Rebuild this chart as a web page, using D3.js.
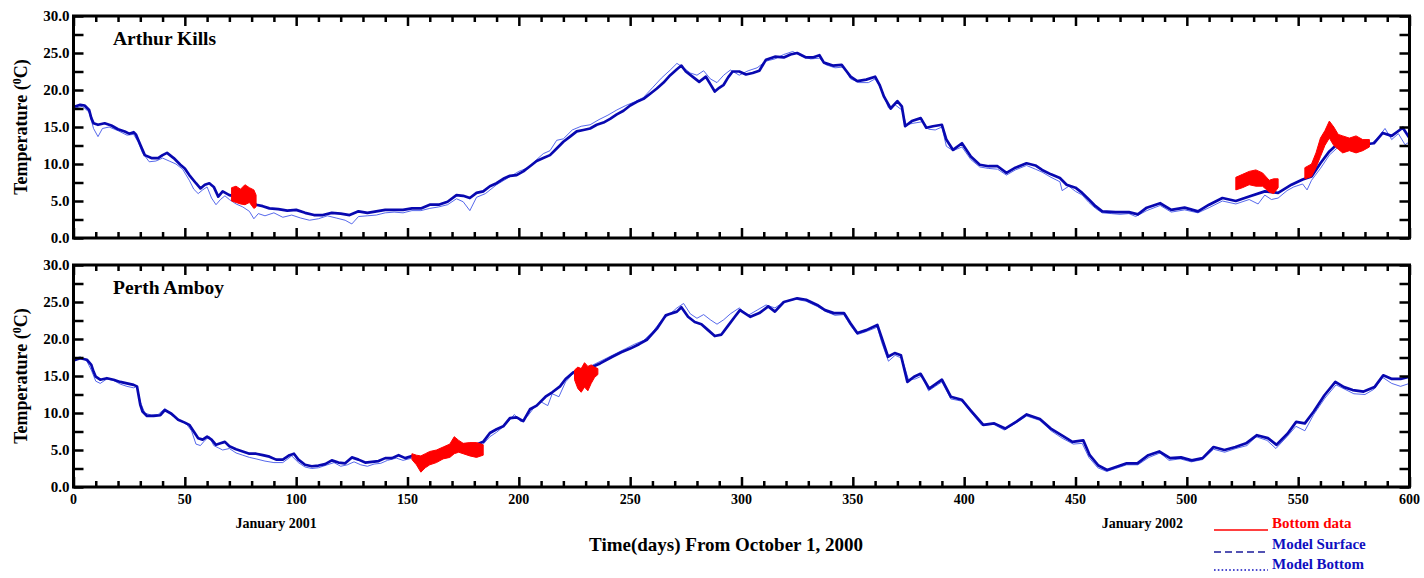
<!DOCTYPE html>
<html>
<head>
<meta charset="utf-8">
<script src="https://cdn.jsdelivr.net/npm/d3@7"></script>
<style>
  html, body { margin: 0; padding: 0; background: #fff; }
  svg { display: block; }
  text { font-family: "Liberation Serif", "Times New Roman", serif; font-weight: bold; }
</style>
</head>
<body>
<svg id="chart" width="1424" height="578"></svg>
<script>
// ---- Data: [day since Oct 1 2000, temperature degC] ----
const akSurface = [[0,17.7],[3,18.0],[5,17.9],[7,17.3],[8,16.2],[9,15.5],[11,15.3],[14,15.5],[17,15.2],[20,14.7],[23,14.4],[25,14.1],[27,14.3],[28,14.0],[30,12.6],[32,11.2],[35,10.8],[38,10.8],[40,11.2],[42,11.5],[45,10.8],[48,9.9],[50,9.4],[52,8.5],[55,7.4],[57,6.7],[59,7.2],[61,7.4],[63,6.9],[65,5.6],[67,6.3],[70,5.8],[73,5.6],[76,5.5],[79,5.3],[82,4.5],[85,4.3],[88,4.0],[92,3.9],[96,3.7],[100,3.8],[104,3.4],[108,3.1],[112,3.1],[116,3.4],[120,3.3],[124,3.1],[128,3.6],[132,3.4],[136,3.6],[140,3.8],[144,3.8],[148,3.8],[152,4.0],[156,4.0],[160,4.5],[164,4.5],[168,4.9],[172,5.8],[175,5.7],[178,5.4],[181,6.1],[184,6.3],[187,7.0],[190,7.4],[193,8.0],[196,8.4],[199,8.5],[202,9.0],[205,9.7],[208,10.4],[211,10.8],[214,11.2],[217,12.1],[220,13.0],[223,13.7],[226,14.4],[229,14.6],[232,14.8],[235,15.3],[238,15.6],[241,16.1],[244,16.7],[247,17.2],[250,17.9],[253,18.4],[256,18.8],[259,19.5],[262,20.2],[265,21.0],[268,22.0],[271,22.8],[273,23.3],[275,22.5],[278,21.8],[281,21.1],[284,21.8],[286,20.8],[288,19.8],[290,20.3],[292,20.7],[294,21.7],[296,22.5],[299,22.5],[302,22.1],[305,22.3],[308,22.6],[311,24.1],[315,24.5],[319,24.4],[322,24.8],[325,25.0],[329,24.4],[332,24.4],[335,24.7],[337,23.7],[341,23.3],[345,23.4],[347,22.6],[349,21.8],[352,21.2],[356,21.4],[360,21.8],[362,20.7],[364,19.1],[367,17.5],[370,18.5],[372,17.8],[373.5,15.1],[376.5,15.8],[380.5,16.2],[383,14.9],[386,15.1],[390,15.3],[392,13.3],[395,11.9],[399,12.8],[403,11.0],[407,9.9],[411,9.7],[415,9.7],[419,8.8],[423,9.5],[428,10.1],[432,9.8],[435,9.2],[439,8.6],[443,8.1],[446,7.2],[450,6.8],[453,6.1],[456,5.2],[459,4.3],[462,3.6],[468,3.5],[474,3.5],[478,3.2],[482,4.1],[488,4.7],[493,3.8],[499,4.1],[505,3.6],[510,4.5],[516,5.4],[522,5.0],[528,5.6],[535,6.3],[541,6.1],[547,7.2],[552,7.9],[556,8.3],[560,10.1],[564,11.7],[568,12.8],[572,12.6],[578,12.6],[584,12.8],[588,14.2],[592,13.8],[597,14.9],[600,13.5]];

const akBottom = [[0,17.5],[4,17.8],[7,17.0],[9,14.8],[11,13.7],[13,14.8],[16,15.0],[20,14.5],[24,13.9],[27,14.0],[29,13.0],[31,11.5],[34,10.3],[37,10.4],[40,10.8],[43,10.4],[46,10.0],[49,9.3],[52,7.8],[54,6.6],[56,6.0],[58,6.5],[60,6.9],[62,5.4],[64,4.5],[66,5.2],[68,5.7],[70,5.2],[73,4.6],[76,4.2],[79,3.6],[81,2.6],[83,3.3],[86,3.0],[90,3.4],[94,2.8],[98,3.1],[102,2.7],[106,2.4],[110,2.6],[114,3.0],[118,2.7],[122,2.4],[125,1.9],[128,2.9],[132,3.0],[136,3.1],[140,3.4],[144,3.5],[148,3.4],[152,3.7],[156,3.7],[160,4.0],[164,4.2],[168,4.5],[172,5.3],[175,4.9],[178,3.7],[181,5.5],[185,6.0],[190,7.2],[195,8.1],[200,9.0],[205,9.6],[208,10.6],[211,11.4],[214,11.8],[217,13.2],[220,13.4],[224,14.6],[228,15.1],[232,15.3],[236,16.0],[240,16.6],[244,17.3],[248,17.9],[252,18.4],[256,19.0],[260,20.3],[264,21.6],[268,22.7],[271,23.6],[274,23.0],[277,22.3],[280,22.0],[283,22.6],[286,21.5],[289,21.0],[292,22.0],[295,22.7],[299,22.0],[303,22.6],[307,23.0],[311,23.9],[315,24.2],[319,24.8],[323,25.2],[327,24.6],[331,24.2],[335,24.3],[338,23.4],[342,23.0],[346,23.1],[349,21.5],[353,21.0],[357,21.0],[360,21.5],[363,20.0],[366,17.6],[369,18.0],[372,17.3],[374,15.3],[377,15.5],[381,15.7],[384,14.7],[387,14.6],[390,15.0],[392,12.4],[395,11.8],[399,12.3],[403,10.6],[407,9.6],[411,9.4],[415,9.3],[419,8.5],[423,9.2],[428,9.8],[432,9.3],[435,8.9],[439,8.2],[443,7.6],[444,6.4],[447,7.0],[450,6.3],[453,5.8],[456,4.8],[459,4.0],[462,3.4],[466,3.3],[470,3.2],[474,3.3],[477,2.9],[482,3.7],[488,4.4],[493,3.5],[499,3.8],[505,3.4],[510,4.1],[516,5.0],[522,4.6],[528,5.2],[532,4.6],[535,5.8],[538,5.2],[541,5.4],[545,6.4],[548,6.9],[552,7.3],[554,6.5],[556,7.8],[560,9.4],[564,11.2],[568,12.3],[572,12.3],[577,12.0],[582,12.5],[586,13.6],[589,14.8],[592,13.3],[595,14.1],[598,12.6],[600,13.0]];

// observed bottom temperature: [day, low, high] of the tidal swing
const akObserved = [
  [[71,5.0,6.8],[73,4.8,7.0],[75,4.6,6.6],[77,4.5,7.2],[79,4.8,6.8],[81,4.0,6.5],[82,4.2,5.8]],
  [[522,6.5,8.2],[525,6.8,8.6],[528,7.2,9.0],[531,7.0,9.2],[534,7.0,8.8],[537,6.2,7.8],[539,6.0,8.0],[541,6.8,8.0]],
  [[553,8.0,9.5],[556,8.3,10.0],[558,9.5,11.5],[560,11.0,13.5],[562,12.5,14.5],[564,13.5,15.8],[566,12.5,15.0],[568,12.0,14.0],[570,11.5,13.8],[573,11.8,13.5],[576,11.5,13.8],[579,11.8,13.3],[582,12.3,13.3]]
];

const paSurface = [[0,17.1],[3,17.4],[6,17.2],[8,16.5],[9,15.6],[10,14.9],[12,14.5],[15,14.7],[18,14.5],[21,14.2],[24,14.0],[27,13.8],[28.5,13.6],[30,11.1],[31,10.2],[33,9.6],[36,9.6],[39,9.7],[41,10.4],[44,9.9],[47,9.1],[50,8.7],[52,8.4],[54,7.5],[56,6.6],[58,6.4],[60,6.8],[62,6.4],[64,5.7],[66,5.9],[68,6.1],[70,5.5],[73,5.1],[76,4.8],[79,4.5],[82,4.5],[85,4.3],[88,4.1],[91,3.7],[94,3.7],[97,4.3],[99,4.5],[101,3.7],[104,3.0],[107,2.8],[110,2.9],[113,3.1],[116,3.6],[119,3.3],[122,3.2],[125,4.0],[128,3.7],[131,3.3],[134,3.4],[137,3.5],[140,3.9],[143,3.9],[146,4.3],[149,3.9],[152,4.2],[155,3.9],[160,4.3],[165,4.8],[170,5.5],[175,5.7],[180,5.6],[184,6.1],[187,7.3],[190,7.8],[193,8.2],[196,9.3],[199,9.4],[202,8.9],[205,10.5],[208,11.0],[212,12.2],[215,12.8],[218.5,13.6],[221,14.6],[224.5,15.5],[228,15.8],[232,16.1],[236.5,16.7],[242,17.6],[246,18.2],[250,18.7],[254,19.3],[257.5,19.9],[262,21.4],[266,23.2],[271,23.7],[273,24.3],[276,23.0],[279,22.3],[282,22.0],[285,21.2],[288,20.4],[291,20.6],[294,21.8],[297,23.0],[299.3,23.9],[304,23.0],[308,23.5],[312,24.4],[315,23.7],[319,25.0],[325,25.5],[329,25.3],[334,24.6],[337.5,23.9],[341.5,23.5],[346,23.5],[349,22.1],[352,20.8],[356,21.2],[361,21.9],[362.8,20.3],[365.8,17.6],[368.8,18.1],[371.6,17.8],[374.5,14.2],[377.5,14.9],[380.4,15.3],[384.3,13.3],[390,14.5],[394,12.2],[398.9,11.8],[402.8,10.4],[408.6,8.4],[413.5,8.6],[418.4,7.9],[423.3,8.8],[428.1,9.8],[434,9.2],[438.9,7.9],[443.7,7.0],[448.6,6.1],[453.5,6.3],[456.4,4.3],[460.3,2.9],[464.2,2.3],[468.1,2.7],[473,3.2],[477.8,3.2],[482.7,4.3],[487.6,4.8],[492.5,3.9],[497.4,4.0],[502.2,3.6],[507.1,3.9],[512,5.4],[516.9,5.0],[521.8,5.4],[526.6,5.9],[531.5,7.0],[536.4,6.6],[540.3,5.7],[545.2,7.2],[549.1,8.8],[553,8.6],[557,10.2],[561.8,12.4],[566.7,14.2],[570.6,13.5],[574.5,13.1],[579.4,12.9],[584.3,13.5],[588.2,15.1],[592.1,14.6],[596,14.6],[600,14.9]];

const paBottom = [[0,17.3],[3,17.6],[6,17.0],[8,15.8],[10,14.3],[12,14.0],[15,14.6],[18,14.4],[21,13.9],[24,13.6],[27,13.4],[28.5,13.6],[30,11.5],[32,10.0],[35,9.7],[38,9.8],[41,10.6],[44,9.7],[48,9.0],[51,8.4],[53,7.6],[55,5.8],[57,5.6],[59,6.3],[61,6.8],[63,5.6],[65,5.3],[67,5.0],[70,5.2],[73,4.6],[76,4.3],[79,4.0],[82,3.8],[86,3.5],[90,3.3],[94,3.3],[98,4.2],[101,3.3],[104,2.7],[107,2.5],[110,2.6],[113,2.9],[117,3.3],[120,2.8],[123,3.0],[126,3.4],[129,3.0],[132,2.8],[135,3.1],[138,3.2],[141,3.6],[145,3.9],[148,3.6],[152,3.9],[156,3.8],[160,4.1],[165,4.5],[170,5.2],[175,5.4],[180,5.3],[184,5.8],[187,6.8],[190,7.4],[194,8.4],[198,9.8],[201,8.8],[204,9.6],[207,10.8],[210,11.5],[213,11.0],[215,12.6],[218,12.2],[221,14.2],[224,15.2],[228,15.9],[232,16.3],[236,16.9],[240,17.5],[244,18.1],[248,18.7],[252,19.3],[256,19.8],[260,20.9],[264,22.5],[268,23.4],[271,24.2],[274,24.8],[277,23.4],[280,22.8],[283,23.3],[286,22.6],[289,22.0],[292,22.6],[295,23.4],[299,24.2],[303,23.2],[307,23.9],[311,24.6],[315,24.2],[319,25.0],[324,25.4],[329,25.1],[334,24.4],[338,23.7],[342,23.2],[346,23.3],[349,21.8],[352,20.6],[356,21.0],[361,21.6],[363,19.5],[366,17.0],[369,17.8],[372,17.4],[375,14.5],[378,14.6],[381,15.0],[384,13.0],[390,14.2],[394,11.9],[399,11.6],[403,10.1],[408,8.3],[413,8.5],[418,7.7],[423,8.6],[428,9.6],[434,9.0],[439,7.6],[444,6.6],[449,5.8],[453,5.9],[456,4.0],[460,2.6],[464,2.1],[468,2.5],[473,3.0],[478,3.0],[483,4.0],[488,4.6],[492,3.6],[497,3.8],[502,3.4],[507,3.7],[512,5.1],[517,4.7],[522,5.2],[527,5.6],[531,6.8],[536,6.3],[540,5.2],[545,6.8],[549,8.2],[553,7.6],[557,9.8],[562,12.0],[567,13.8],[571,13.2],[575,12.6],[580,12.5],[584,13.2],[588,14.8],[592,14.0],[596,13.6],[600,14.0]];

const paObserved = [
  [[152,3.7,4.5],[154,3.0,4.3],[156,2.0,4.2],[158,2.6,4.5],[160,3.0,4.8],[163,3.3,5.0],[166,3.8,5.4],[169,4.0,5.8],[171,4.5,6.8],[173,4.7,6.3],[175,4.5,5.9],[178,4.2,6.0],[181,4.0,6.0],[184,4.3,5.7]],
  [[225,14.5,15.8],[226.5,13.3,16.2],[228,12.8,16.0],[229.5,13.5,16.8],[231,13.0,16.3],[232.5,14.0,16.5],[234,14.8,16.2],[235.5,15.2,16.0]]
];

const stations = ["Arthur Kills", "Perth Amboy"];
const xTickLabels = [0, 50, 100, 150, 200, 250, 300, 350, 400, 450, 500, 550, 600];
const yTickLabels = [0, 5, 10, 15, 20, 25, 30];
const monthMarks = [[91, "January 2001"], [480, "January 2002"]];
const legendItems = ["Bottom data", "Model Surface", "Model Bottom"];

// ---- Layout ----
const svg = d3.select("#chart");
const left = 73.5, right = 1409.5;
const panels = [
  { top: 16, bottom: 238, surface: akSurface, bottomModel: akBottom, observed: akObserved },
  { top: 265, bottom: 487, surface: paSurface, bottomModel: paBottom, observed: paObserved }
];

const x = d3.scaleLinear().domain([0, 600]).range([left, right]);
const colSurface = "#0808b0", colBottom = "#3a4fe8", colObs = "#ff0000";

panels.forEach((p, i) => {
  const y = d3.scaleLinear().domain([0, 30]).range([p.bottom, p.top]);
  const g = svg.append("g");

  const clipId = "clip" + i;
  g.append("clipPath").attr("id", clipId).append("rect")
    .attr("x", left).attr("y", p.top).attr("width", right - left).attr("height", p.bottom - p.top);
  const plot = g.append("g").attr("clip-path", `url(#${clipId})`);

  const line = d3.line().x(d => x(d[0])).y(d => y(d[1]));

  // modelled near-bed temperature (thin, lighter)
  plot.append("path").datum(p.bottomModel)
    .attr("d", line).attr("fill", "none")
    .attr("stroke", colBottom).attr("stroke-width", 1).attr("opacity", 0.85);

  // modelled surface temperature (heavier)
  plot.append("path").datum(p.surface)
    .attr("d", line).attr("fill", "none")
    .attr("stroke", colSurface).attr("stroke-width", 2.7).attr("stroke-linejoin", "round");

  // observed bottom temperature: tidal swing envelope
  const area = d3.area().x(d => x(d[0])).y0(d => y(d[1])).y1(d => y(d[2]));
  p.observed.forEach(seg => {
    plot.append("path").datum(seg).attr("d", area)
      .attr("fill", colObs).attr("stroke", colObs).attr("stroke-width", 1);
  });

  // axes: ticks point inward on all four sides
  const minorX = d3.range(0, 601, 10).filter(v => v % 50 !== 0);
  const styleAxis = sel => {
    sel.selectAll(".domain").remove();
    sel.selectAll(".tick line").attr("stroke", "#000").attr("stroke-width", 2.5);
    sel.selectAll("text").remove();
  };
  g.append("g").attr("transform", `translate(0,${p.bottom})`)
    .call(d3.axisBottom(x).tickValues(minorX).tickSize(-6)).call(styleAxis);
  g.append("g").attr("transform", `translate(0,${p.bottom})`)
    .call(d3.axisBottom(x).tickValues(xTickLabels).tickSize(-10)).call(styleAxis);
  g.append("g").attr("transform", `translate(0,${p.top})`)
    .call(d3.axisTop(x).tickValues(minorX).tickSize(-6)).call(styleAxis);
  g.append("g").attr("transform", `translate(0,${p.top})`)
    .call(d3.axisTop(x).tickValues(xTickLabels).tickSize(-10)).call(styleAxis);
  const yTicks = d3.range(0, 30.01, 2.5);
  g.append("g").attr("transform", `translate(${left},0)`)
    .call(d3.axisLeft(y).tickValues(yTicks).tickSize(-10)).call(styleAxis);
  g.append("g").attr("transform", `translate(${right},0)`)
    .call(d3.axisRight(y).tickValues(yTicks).tickSize(-10)).call(styleAxis);

  // y tick labels
  g.selectAll(".ylab").data(yTickLabels).enter().append("text")
    .attr("x", left - 4).attr("y", d => y(d) + 5)
    .attr("text-anchor", "end").attr("font-size", 15)
    .text(d => d.toFixed(1));

  // frame
  g.append("rect").attr("x", left).attr("y", p.top)
    .attr("width", right - left).attr("height", p.bottom - p.top)
    .attr("fill", "none").attr("stroke", "#000").attr("stroke-width", 3);

  // station name
  g.append("text").attr("x", 113).attr("y", p.top + 29)
    .attr("font-size", 19.5).text(stations[i]);

  // y axis title
  const yc = (p.top + p.bottom) / 2;
  const yt = g.append("text").attr("transform", `translate(27,${yc}) rotate(-90)`)
    .attr("text-anchor", "middle").attr("font-size", 18);
  yt.append("tspan").text("Temperature (");
  yt.append("tspan").attr("font-size", 12).attr("dy", -6).text("0");
  yt.append("tspan").attr("dy", 6).text("C)");

  // x tick labels on the lower panel only
  if (i === 1) {
    g.selectAll(".xlab").data(xTickLabels).enter().append("text")
      .attr("x", d => x(d)).attr("y", 504)
      .attr("text-anchor", "middle").attr("font-size", 14)
      .text(d => d);
  }
});

// month markers
svg.selectAll(".month").data(monthMarks).enter().append("text")
  .attr("x", d => x(d[0])).attr("y", 528)
  .attr("text-anchor", "middle").attr("font-size", 14)
  .text(d => d[1]);

// x axis title
svg.append("text").attr("x", 726).attr("y", 551)
  .attr("text-anchor", "middle").attr("font-size", 19)
  .text("Time(days) From October 1, 2000");

// legend
const lg = svg.append("g");
const lx0 = 1214, lx1 = 1268, ltx = 1272;
lg.append("line").attr("x1", lx0).attr("x2", lx1).attr("y1", 530).attr("y2", 530)
  .attr("stroke", colObs).attr("stroke-width", 1.5);
lg.append("text").attr("x", ltx).attr("y", 528).attr("font-size", 15)
  .attr("fill", colObs).text(legendItems[0]);
lg.append("line").attr("x1", lx0).attr("x2", lx1).attr("y1", 552).attr("y2", 552)
  .attr("stroke", "#1a1a9a").attr("stroke-width", 1.3).attr("stroke-dasharray", "7,4");
lg.append("text").attr("x", ltx).attr("y", 549).attr("font-size", 15)
  .attr("fill", "#1010c0").text(legendItems[1]);
lg.append("line").attr("x1", lx0).attr("x2", lx1).attr("y1", 570).attr("y2", 570)
  .attr("stroke", "#1010c0").attr("stroke-width", 1.6).attr("stroke-dasharray", "1.6,2.2");
lg.append("text").attr("x", ltx).attr("y", 569).attr("font-size", 15)
  .attr("fill", "#1010c0").text(legendItems[2]);
</script>
</body>
</html>
